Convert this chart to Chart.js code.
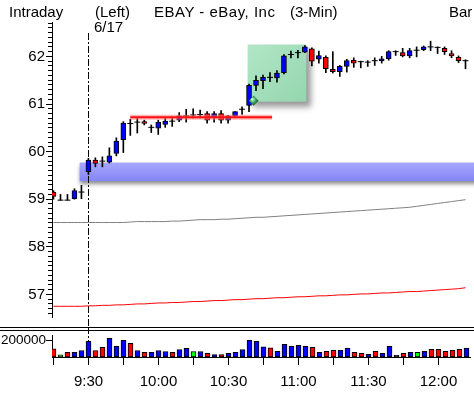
<!DOCTYPE html>
<html>
<head>
<meta charset="utf-8">
<script src="https://cdn.jsdelivr.net/npm/chart.js@4.4.0/dist/chart.umd.min.js"></script>
<style>
  html, body { margin: 0; padding: 0; background: #fff; }
  #wrap { position: relative; width: 474px; height: 393px; overflow: hidden; background: #fff;
          font-family: "Liberation Sans", Arial, sans-serif; color: #000; }
  #wrap canvas { position: absolute; left: 0; }
  #price { top: 0; }
  #vol { top: 327px; }
  .hd { position: absolute; font-size: 15px; line-height: 15px; white-space: pre; }
</style>
</head>
<body>
<div id="wrap">
  <canvas id="price" width="474" height="327"></canvas>
  <canvas id="vol" width="474" height="66"></canvas>
  <div class="hd" style="left:9px;top:4px">Intraday</div>
  <div class="hd" style="left:95px;top:4px">(Left)</div>
  <div class="hd" style="left:94px;top:19px">6/17</div>
  <div class="hd" style="left:154px;top:4px;letter-spacing:0.5px">EBAY - eBay, Inc</div>
  <div class="hd" style="left:290px;top:4px">(3-Min)</div>
  <div class="hd" style="left:449px;top:4px">Bar</div>
</div>
<script>
// EBAY 3-minute bars, 9:15 through 12:12 (one entry per bar)
const openP = [59.15,58.98,58.98,59.01,59.15,59.58,59.82,59.80,59.78,59.96,
               60.25,60.59,60.62,60.63,60.51,60.49,60.57,60.64,60.66,60.75,
               60.77,60.78,60.80,60.73,60.80,60.66,60.75,60.89,60.97,61.39,
               61.49,61.56,61.55,61.66,62.04,62.08,62.09,62.16,61.94,61.98,
               61.73,61.68,61.79,61.92,61.89,61.88,61.91,61.91,61.95,62.10,
               62.08,62.01,62.13,62.14,62.20,62.19,62.17,62.06,61.98,61.91];
const highP = [59.18,59.10,59.10,59.22,59.29,59.86,59.87,59.89,60.08,60.29,
               60.63,60.68,60.70,60.66,60.56,60.66,60.70,60.73,60.82,60.89,
               60.90,60.87,60.84,60.84,60.86,60.76,60.84,60.94,61.42,61.59,
               61.61,61.66,61.70,62.04,62.11,62.13,62.23,62.18,62.11,62.01,
               62.10,61.81,61.94,61.97,61.90,61.91,61.97,62.00,62.12,62.12,
               62.17,62.17,62.20,62.22,62.32,62.20,62.20,62.12,62.01,61.93];
const lowP  = [59.00,58.98,58.98,59.00,59.01,59.52,59.68,59.68,59.76,59.91,
               59.98,60.34,60.39,60.56,60.40,60.36,60.51,60.53,60.63,60.62,
               60.70,60.71,60.60,60.62,60.60,60.60,60.74,60.78,60.84,61.28,
               61.32,61.47,61.46,61.63,61.97,61.97,62.08,61.80,61.86,61.66,
               61.65,61.58,61.67,61.77,61.76,61.79,61.81,61.86,61.92,62.02,
               61.99,61.97,61.99,62.12,62.12,62.06,62.04,61.97,61.87,61.74];
const closeP = [59.06,58.98,58.98,59.18,59.15,59.82,59.75,59.80,59.91,60.22,
                60.60,60.59,60.62,60.59,60.51,60.62,60.64,60.64,60.75,60.75,
                60.77,60.78,60.66,60.80,60.66,60.75,60.84,60.89,61.39,61.50,
                61.56,61.56,61.65,62.01,62.04,62.08,62.20,61.90,62.02,61.74,
                61.68,61.79,61.91,61.86,61.89,61.88,61.91,61.95,62.10,62.10,
                62.01,62.12,62.13,62.20,62.20,62.19,62.10,62.01,61.91,61.91];
const volume = [96000,25000,54000,54000,77000,184000,77000,113000,220000,125000,
                196000,161000,77000,54000,54000,77000,65000,54000,89000,101000,
                65000,65000,42000,30000,30000,42000,54000,89000,196000,184000,
                119000,107000,68000,151000,127000,139000,127000,115000,56000,68000,
                80000,80000,104000,56000,44000,32000,68000,44000,127000,20000,
                44000,56000,56000,68000,92000,92000,68000,80000,92000,104000];
// tick direction of each volume bar: u = up, d = down, e = unchanged, z = none
const volTone = ['d','e','d','u','u','u','d','d','u','u',
                 'u','d','u','d','u','u','u','d','u','u',
                 'e','u','d','u','d','u','u','u','u','u',
                 'u','d','u','u','u','u','u','d','u','d',
                 'd','u','u','d','d','u','d','u','u','z',
                 'd','u','e','u','d','d','d','d','d','u'];
// long moving averages carried over from the daily chart
const maLong = [58.51,58.51,58.51,58.51,58.51,58.51,58.51,58.51,58.51,58.51,
                58.51,58.52,58.53,58.53,58.53,58.53,58.53,58.54,58.54,58.55,
                58.56,58.57,58.57,58.57,58.58,58.58,58.59,58.60,58.61,58.62,
                58.62,58.63,58.64,58.65,58.66,58.67,58.68,58.69,58.70,58.71,
                58.72,58.73,58.74,58.75,58.76,58.77,58.78,58.79,58.80,58.81,
                58.82,58.83,58.85,58.87,58.89,58.91,58.93,58.95,58.97,58.99];
const maSlow = [56.75,56.75,56.75,56.75,56.75,56.76,56.76,56.77,56.77,56.78,
                56.78,56.79,56.80,56.80,56.81,56.82,56.82,56.83,56.83,56.84,
                56.85,56.85,56.86,56.87,56.87,56.88,56.89,56.89,56.90,56.91,
                56.91,56.92,56.93,56.93,56.94,56.95,56.95,56.96,56.97,56.97,
                56.98,56.99,56.99,57.00,57.01,57.01,57.02,57.03,57.03,57.04,
                57.05,57.06,57.06,57.07,57.08,57.09,57.10,57.11,57.12,57.14];
const priceTicks = [57, 58, 59, 60, 61, 62];
const volTicks = [200000];
// x-axis ticks every 5 bars (15 minutes); labels on the half hours
const timeTickBars = [0, 5, 10, 15, 20, 25, 30, 35, 40, 45, 50, 55];
const timeLabels = ['', '9:30', '', '10:00', '', '10:30', '', '11:00', '', '11:30', '', '12:00'];
const sessionOpenBar = 5;
// drawn studies
const supportBand = [59.38, 59.77];
const supportFromBar = 3.75;
const resistLevel = 60.72;
const resistBars = [11, 31.3];
const breakoutBox = { fromBar: 27.8, toBar: 36.2, low: 61.05, high: 62.25 };

const UP = '#0000ff', DOWN = '#ff0000';
const toneColor = { u: '#0000ff', d: '#ff0000', e: '#00ff00', z: '#000000' };
const FONT = "'Liberation Sans', Arial, sans-serif";
const X_MIN = -1.5 / 7, X_MAX = X_MIN + 418 / 7;

const idx = openP.map((_, i) => i);
const wickData = idx.map(i => ({ x: i, y: [lowP[i], highP[i]] }));
const bodyData = idx.filter(i => openP[i] !== closeP[i]).map(i => ({ x: i, y: [openP[i], closeP[i]] }));
const dojiData = idx.filter(i => openP[i] === closeP[i]).map(i => ({ x: i, y: closeP[i] }));

const crisp = v => Math.round(v) + 0.5;

const studiesPlugin = {
  id: 'studies',
  beforeDatasetsDraw(chart) {
    const { ctx, scales: { x, y } } = chart;
    // support band
    ctx.save();
    const bx0 = x.getPixelForValue(supportFromBar);
    const by0 = y.getPixelForValue(supportBand[1]);
    const by1 = y.getPixelForValue(supportBand[0]);
    ctx.shadowColor = 'rgba(0,0,0,0.45)';
    ctx.shadowBlur = 4;
    ctx.shadowOffsetY = 3;
    const g = ctx.createLinearGradient(0, by0, 0, by1);
    g.addColorStop(0, '#a8a8ff');
    g.addColorStop(1, '#8484f4');
    ctx.fillStyle = g;
    ctx.fillRect(bx0, by0, chart.width - bx0 + 10, by1 - by0);
    ctx.restore();

    // breakout box
    ctx.save();
    const gx0 = x.getPixelForValue(breakoutBox.fromBar);
    const gx1 = x.getPixelForValue(breakoutBox.toBar);
    const gy0 = y.getPixelForValue(breakoutBox.high);
    const gy1 = y.getPixelForValue(breakoutBox.low);
    ctx.shadowColor = 'rgba(0,0,0,0.4)';
    ctx.shadowBlur = 6;
    ctx.shadowOffsetX = 5;
    ctx.shadowOffsetY = 5;
    const gg = ctx.createLinearGradient(gx0, gy0, gx1, gy1);
    gg.addColorStop(0, '#b2e6c6');
    gg.addColorStop(1, '#94d6ae');
    ctx.fillStyle = gg;
    ctx.fillRect(gx0, gy0, gx1 - gx0, gy1 - gy0);
    ctx.restore();

    // session open marker
    ctx.save();
    const sx = crisp(x.getPixelForValue(sessionOpenBar) - 0.5);
    ctx.strokeStyle = '#000';
    ctx.lineWidth = 1;
    ctx.setLineDash([7, 2, 2, 2]);
    ctx.beginPath();
    ctx.moveTo(sx, 33);
    ctx.lineTo(sx, chart.height);
    ctx.stroke();
    ctx.restore();
  },
  afterDatasetsDraw(chart) {
    const { ctx, scales: { x, y } } = chart;
    // resistance line
    ctx.save();
    const ry = y.getPixelForValue(resistLevel);
    ctx.strokeStyle = 'rgba(255,120,120,0.55)';
    ctx.lineWidth = 5;
    ctx.beginPath();
    ctx.moveTo(x.getPixelForValue(resistBars[0]), ry);
    ctx.lineTo(x.getPixelForValue(resistBars[1]), ry);
    ctx.stroke();
    ctx.strokeStyle = '#ff1010';
    ctx.lineWidth = 2;
    ctx.stroke();
    ctx.restore();

    // marker gem at the box corner
    ctx.save();
    const cx = x.getPixelForValue(breakoutBox.fromBar) + 6;
    const cy = y.getPixelForValue(breakoutBox.low) - 1;
    const rg = ctx.createRadialGradient(cx - 1.5, cy - 1.5, 0.5, cx, cy, 5);
    rg.addColorStop(0, '#c8ffd8');
    rg.addColorStop(0.5, '#3aa85a');
    rg.addColorStop(1, '#0e4a22');
    ctx.fillStyle = rg;
    ctx.beginPath();
    ctx.moveTo(cx, cy - 5);
    ctx.lineTo(cx + 5, cy);
    ctx.lineTo(cx, cy + 5);
    ctx.lineTo(cx - 5, cy);
    ctx.closePath();
    ctx.fill();
    ctx.restore();
  },
  afterDraw(chart) {
    // minor price ticks every 0.10
    const { ctx, scales: { y } } = chart;
    ctx.save();
    ctx.strokeStyle = '#000';
    ctx.lineWidth = 1;
    ctx.beginPath();
    for (let k = Math.ceil(y.min * 10); k <= Math.floor(y.max * 10); k++) {
      if (k % 10 === 0) continue;
      const py = crisp(y.getPixelForValue(k / 10) - 0.5);
      ctx.moveTo(48, py);
      ctx.lineTo(52, py);
    }
    ctx.stroke();
    ctx.restore();
  }
};

new Chart(document.getElementById('price'), {
  type: 'bar',
  data: {
    datasets: [
      { type: 'bar', data: bodyData, grouped: false, barThickness: 5,
        backgroundColor: c => (c.raw.y[1] >= c.raw.y[0] ? UP : DOWN),
        borderColor: '#000', borderWidth: 1, borderSkipped: false },
      { type: 'line', data: dojiData, showLine: false, pointStyle: 'line',
        pointRadius: 3, borderColor: '#000', borderWidth: 1, backgroundColor: '#000' },
      { type: 'bar', data: wickData, grouped: false, barThickness: 1,
        backgroundColor: '#000', borderWidth: 0 },
      { type: 'line', data: idx.map(i => ({ x: i, y: maLong[i] })),
        borderColor: '#808080', borderWidth: 1, pointRadius: 0, tension: 0 },
      { type: 'line', data: idx.map(i => ({ x: i, y: maSlow[i] })),
        borderColor: '#ff0000', borderWidth: 1, pointRadius: 0, tension: 0 }
    ]
  },
  options: {
    responsive: false,
    devicePixelRatio: 1,
    animation: false,
    events: [],
    layout: { padding: { top: 22, bottom: 5, left: 0, right: 4 } },
    plugins: { legend: { display: false }, tooltip: { enabled: false } },
    scales: {
      x: { type: 'linear', min: X_MIN, max: X_MAX, offset: false, display: false },
      y: {
        min: 56.525, max: 62.723,
        afterFit: s => { s.width = 52; },
        afterBuildTicks: s => { s.ticks = priceTicks.map(v => ({ value: v })); },
        ticks: { color: '#000', padding: 1, font: { family: FONT, size: 15 }, callback: v => String(v) },
        grid: { drawOnChartArea: false, tickLength: 6, color: '#000' },
        border: { color: '#000' }
      }
    }
  },
  plugins: [studiesPlugin]
});

const volPlugin = {
  id: 'volDeco',
  beforeDraw(chart) {
    const { ctx } = chart;
    ctx.save();
    ctx.fillStyle = '#000';
    ctx.fillRect(0, 0, chart.width, 1);
    ctx.fillRect(0, 3, chart.width, 1);
    ctx.restore();
  },
  beforeDatasetsDraw(chart) {
    const { ctx, scales: { x }, chartArea } = chart;
    ctx.save();
    const sx = crisp(x.getPixelForValue(sessionOpenBar) - 0.5);
    ctx.strokeStyle = '#000';
    ctx.lineWidth = 1;
    ctx.setLineDash([7, 2, 2, 2]);
    ctx.beginPath();
    ctx.moveTo(sx, 0);
    ctx.lineTo(sx, chartArea.bottom);
    ctx.stroke();
    ctx.restore();
  }
};

new Chart(document.getElementById('vol'), {
  type: 'bar',
  data: {
    datasets: [
      { data: idx.map(i => ({ x: i, y: volume[i] })), grouped: false, barThickness: 5,
        backgroundColor: idx.map(i => toneColor[volTone[i]]),
        borderColor: '#000', borderWidth: 1, borderSkipped: false }
    ]
  },
  options: {
    responsive: false,
    devicePixelRatio: 1,
    animation: false,
    events: [],
    layout: { padding: { top: 8, bottom: 0, left: 0, right: 4 } },
    plugins: { legend: { display: false }, tooltip: { enabled: false } },
    scales: {
      x: {
        type: 'linear', min: X_MIN, max: X_MAX, offset: false,
        afterFit: s => { s.height = 36; },
        afterBuildTicks: s => { s.ticks = timeTickBars.map(v => ({ value: v })); },
        ticks: {
          color: '#000', padding: 8, maxRotation: 0, autoSkip: false,
          font: { family: FONT, size: 15 },
          callback: v => timeLabels[timeTickBars.indexOf(v)] || ''
        },
        grid: { drawOnChartArea: false, tickLength: 8, color: '#000', offset: false },
        border: { color: '#000' }
      },
      y: {
        min: 0, max: 258824,
        afterFit: s => { s.width = 52; },
        afterBuildTicks: s => { s.ticks = volTicks.map(v => ({ value: v })); },
        ticks: { color: '#000', padding: 0, font: { family: FONT, size: 13.5 }, callback: v => String(v) },
        grid: { drawOnChartArea: false, tickLength: 6, color: '#000' },
        border: { color: '#000' }
      }
    }
  },
  plugins: [volPlugin]
});
</script>
</body>
</html>
